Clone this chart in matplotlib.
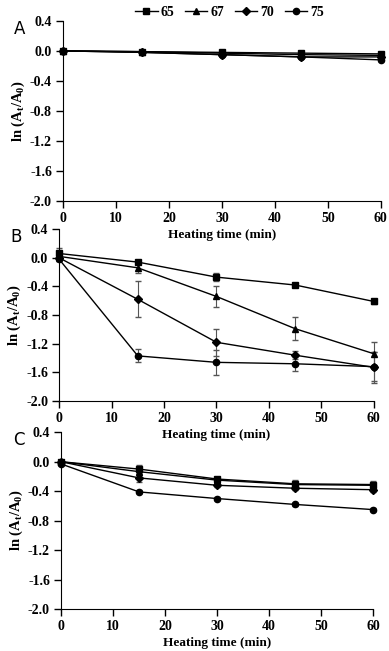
import numpy as np
import matplotlib.pyplot as plt

plt.rcParams['font.family'] = 'Liberation Serif'
plt.rcParams['font.weight'] = 'bold'
plt.rcParams['mathtext.fontset'] = 'custom'
plt.rcParams['mathtext.rm'] = 'Liberation Serif:bold'
plt.rcParams['mathtext.it'] = 'Liberation Serif:bold'
plt.rcParams['mathtext.bf'] = 'Liberation Serif:bold'

time = [0, 15, 30, 45, 60]
temps = ['65', '67', '70', '75']
markers = ['s', '^', 'D', 'o']

# panel A
a_vals = {
    '65': [0.0, -0.01, -0.02, -0.03, -0.04],
    '67': [0.0, -0.01, -0.03, -0.05, -0.06],
    '70': [0.0, -0.02, -0.05, -0.08, -0.08],
    '75': [0.0, -0.02, -0.05, -0.08, -0.12],
}
a_err = {t: [0.01, 0.01, 0.01, 0.01, 0.01] for t in temps}

# panel B
b_vals = {
    '65': [0.06, -0.06, -0.27, -0.38, -0.61],
    '67': [0.02, -0.14, -0.54, -0.99, -1.34],
    '70': [0.0, -0.58, -1.18, -1.36, -1.53],
    '75': [-0.02, -1.37, -1.46, -1.48, -1.52],
}
b_err = {
    '65': [0.08, 0.02, 0.06, 0.02, 0.03],
    '67': [0.05, 0.07, 0.15, 0.16, 0.16],
    '70': [0.04, 0.25, 0.19, 0.06, 0.22],
    '75': [0.03, 0.09, 0.17, 0.10, 0.20],
}

# panel C
c_vals = {
    '65': [0.0, -0.10, -0.235, -0.30, -0.31],
    '67': [0.0, -0.135, -0.25, -0.31, -0.32],
    '70': [0.0, -0.22, -0.32, -0.36, -0.38],
    '75': [-0.03, -0.41, -0.50, -0.58, -0.65],
}
c_err = {
    '65': [0.02, 0.05, 0.03, 0.05, 0.05],
    '67': [0.02, 0.04, 0.03, 0.03, 0.03],
    '70': [0.02, 0.05, 0.03, 0.03, 0.03],
    '75': [0.02, 0.02, 0.02, 0.02, 0.02],
}

fig = plt.figure(figsize=(3.89, 6.51), dpi=100)
boxes = [
    [0.162, 0.691, 0.817, 0.277],
    [0.152, 0.384, 0.809, 0.264],
    [0.157, 0.0645, 0.802, 0.2715],
]
panels = [('A', a_vals, a_err), ('B', b_vals, b_err), ('C', c_vals, c_err)]

for box, (lab, vals, errs) in zip(boxes, panels):
    ax = fig.add_axes(box)
    ax.set_facecolor('none')
    for t, m in zip(temps, markers):
        _, caps, bars = ax.errorbar(time, vals[t], yerr=errs[t], color='black', marker=m,
                                    markersize=4.5 if m != 'D' else 4, linewidth=1.0,
                                    ecolor='#555555', elinewidth=0.8, capsize=2, label=t,
                                    clip_on=False)
        for c in caps:
            c.set_clip_on(False)
        for b in bars:
            b.set_clip_on(False)
    ax.set_xlim(0, 60)
    ax.set_ylim(-2.0, 0.4)
    ax.set_xticks(range(0, 61, 10))
    ax.set_yticks(np.arange(-2.0, 0.41, 0.4))
    ax.yaxis.set_major_formatter(plt.FuncFormatter(lambda v, p: f'{round(v, 1) + 0.0:.1f}'))
    ax.spines['top'].set_visible(False)
    ax.spines['right'].set_visible(False)
    ax.tick_params(direction='out', length=5, width=1, labelsize=10, pad=3)
    ax.set_xlabel('Heating time (min)', fontsize=9.5, fontweight='bold', labelpad=3)
    ax.set_ylabel(r'ln (A$_\mathrm{t}$/A$_\mathrm{0}$)', fontsize=10.5, fontweight='bold', labelpad=2)
    ax.text(-0.155, 1.005, lab, transform=ax.transAxes, fontsize=12,
            family='DejaVu Sans', fontweight='normal', ha='left', va='top')
    if lab == 'A':
        handles, labels = ax.get_legend_handles_labels()

handles = [h[0] for h in handles]
fig.legend(handles, labels, loc='upper center', bbox_to_anchor=(0.59, 1.01), ncol=4,
           frameon=False, fontsize=10, handlelength=1.6, handletextpad=0.2,
           columnspacing=0.8)

fig.savefig('out.png', dpi=100)
